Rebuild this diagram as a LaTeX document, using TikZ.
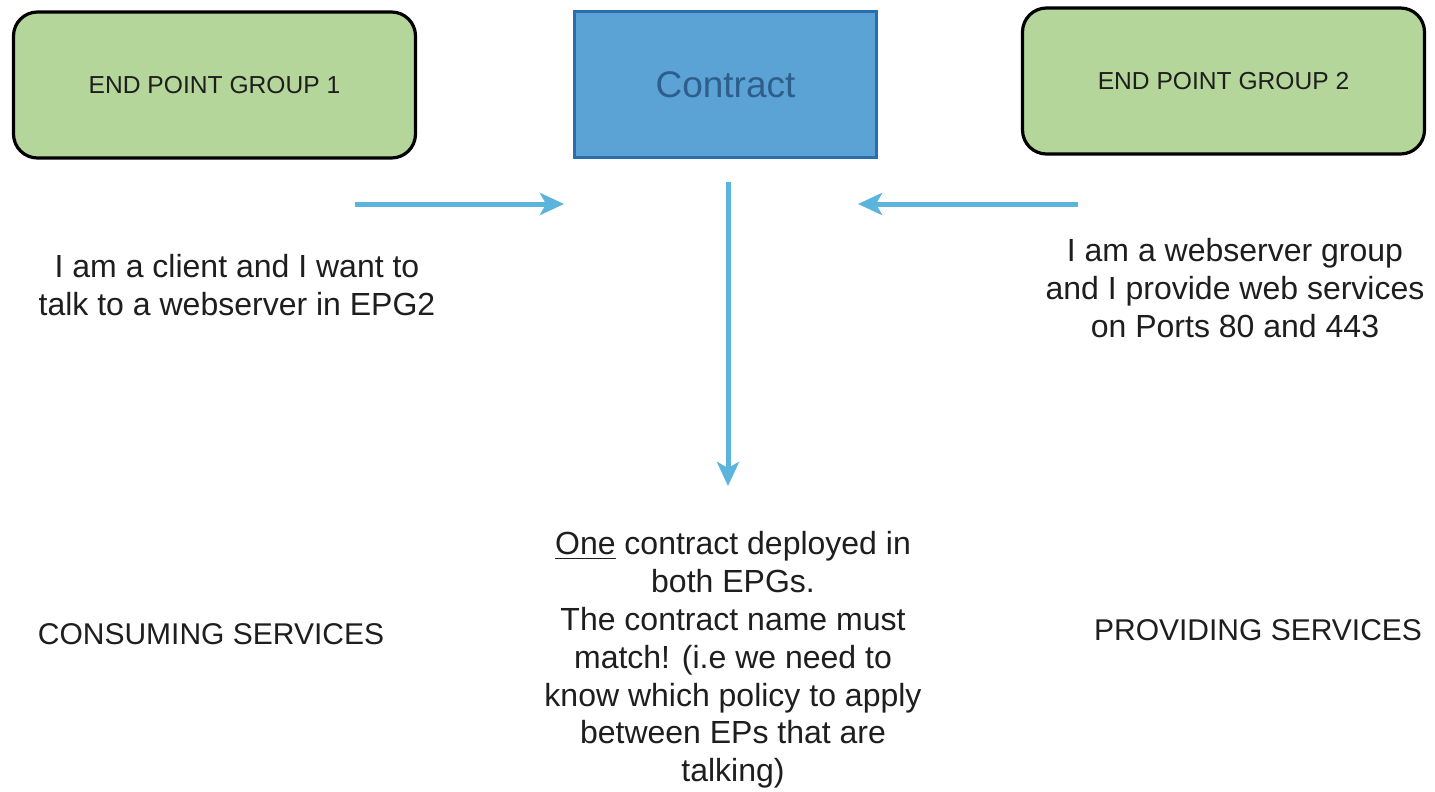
\documentclass[tikz,border=0pt]{standalone}
\usepackage{fontspec}
\setmainfont{Liberation Sans}
\usetikzlibrary{arrows.meta}
\definecolor{epgfill}{HTML}{B4D69A}
\definecolor{ctfill}{HTML}{5AA3D4}
\definecolor{ctborder}{HTML}{2C6CB0}
\definecolor{cttext}{HTML}{2E5E8C}
\definecolor{arrowblue}{HTML}{5BB4DC}
\definecolor{txt}{HTML}{1E1E1E}
\begin{document}
\begin{tikzpicture}[x=0.5pt,y=-0.5pt,
  epgbox/.style={draw=black,line width=1.6pt,fill=epgfill,rounded corners=12pt,
    minimum width=201pt,minimum height=73pt,inner sep=0pt,text=txt,font=\fontsize{12.3}{14}\selectfont},
  ctbox/.style={draw=ctborder,line width=1.5pt,fill=ctfill,
    minimum width=151pt,minimum height=73pt,inner sep=0pt,text=cttext,font=\fontsize{18.5}{22}\selectfont},
  lbl/.style={align=center,text=txt,inner sep=0pt,font=\fontsize{16}{18.9}\selectfont},
  captxt/.style={text=txt,inner sep=0pt,font=\fontsize{15}{18}\selectfont},
  flow/.style={draw=arrowblue,line width=2.5pt,-{Stealth[length=12pt,width=11pt,inset=3pt]}}
]
\useasboundingbox (0,0) rectangle (1435,792);
\fill[white] (0,0) rectangle (1435,792);

\node[epgbox] (epg1) at (214.5,85) {END POINT GROUP 1};
\node[ctbox] (ct) at (725.5,85) {Contract};
\node[epgbox] (epg2) at (1223.5,81) {END POINT GROUP 2};

\coordinate (l0) at (355,204);
\coordinate (l1) at (564,204);
\coordinate (r0) at (1078,204);
\coordinate (r1) at (858,204);
\coordinate (d0) at (728,182);
\coordinate (d1) at (728,486);

\draw[flow] (l0) -- (l1);
\draw[flow] (r0) -- (r1);
\draw[flow] (d0) -- (d1);

\node[lbl] (ltext) at (237,285) {I am a client and I want to\\talk to a webserver in EPG2};
\node[lbl] (rtext) at (1235,288) {I am a webserver group\\and I provide web services\\on Ports 80 and 443};
\node[captxt] (cons) at (211,634) {CONSUMING SERVICES};
\node[captxt] (prov) at (1258,630) {PROVIDING SERVICES};
\node[lbl] (mtext) at (733,660) {\underline{One} contract deployed in\\both EPGs.\\The contract name must\\match! (i.e we need to\\know which policy to apply\\between EPs that are\\talking)};
\end{tikzpicture}
\end{document}
